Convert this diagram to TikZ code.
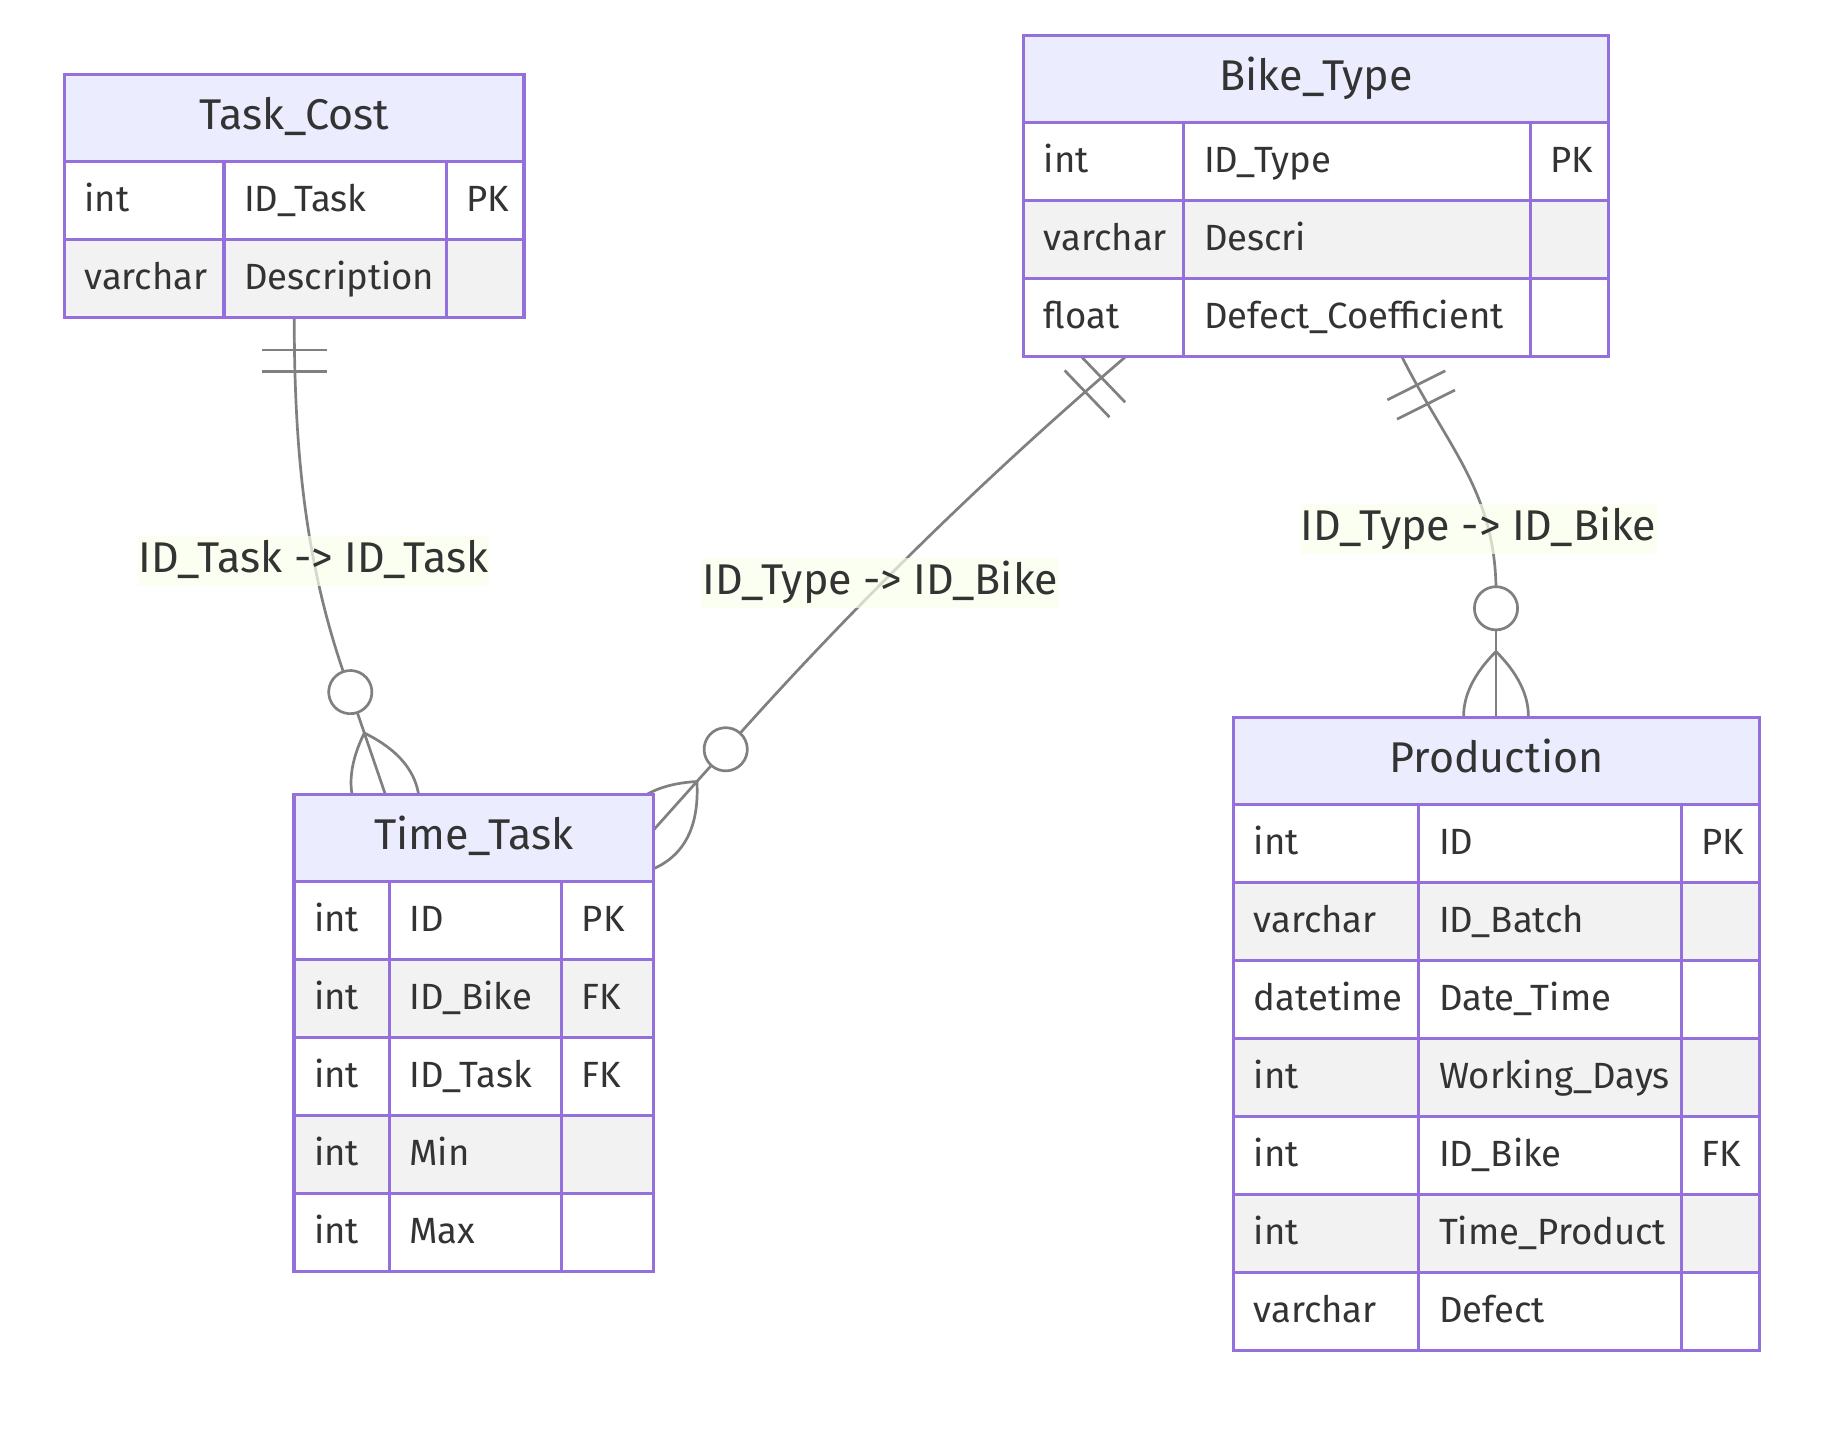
\documentclass[tikz,border=0pt]{standalone}
\usepackage{fontspec}
\setmainfont{Fira Sans}
\usetikzlibrary{calc}
\definecolor{erborder}{HTML}{9370DB}
\definecolor{erhead}{HTML}{ECECFF}
\definecolor{erodd}{HTML}{FFFFFF}
\definecolor{ereven}{HTML}{F2F2F2}
\definecolor{ertext}{HTML}{333333}
\definecolor{erline}{HTML}{808080}
\definecolor{erlabel}{HTML}{F9FFEC}
\newcommand\ERheadfont{\fontsize{43}{50}\selectfont}
\newcommand\ERrowfont{\fontsize{36.5}{43}\selectfont}
\pgfdeclarelayer{bg}
\pgfdeclarelayer{edges}
\pgfsetlayers{bg,edges,main}
\tikzset{
  conn/.style={draw=erline, line width=2.7pt},
  cell/.style={draw=erborder, line width=3.2pt},
  headbox/.style={draw=erborder, line width=3.2pt, fill=erhead},
  headtext/.style={font=\ERheadfont, text=ertext, inner sep=0pt},
  rowtext/.style={font=\ERrowfont, text=ertext, inner sep=0pt},
  elabel/.style={font=\ERheadfont, text=ertext, fill=erlabel, fill opacity=0.7, text opacity=1,
                 inner xsep=1pt, inner ysep=0pt, text height=36.5pt, text depth=13.5pt},
  pics/zmany/.style={code={
    \draw[conn] (0,0) circle[radius=6];
    \draw[conn] (6,0) -- (48,0);
    \draw[conn] (12,0) .. controls (24,12) and (36,12) .. (48,0) .. controls (36,-12) and (24,-12) .. (12,0);
  }},
  pics/onlyone/.style={code={
    \draw[conn] (9,-9) -- (9,9) (15,-9) -- (15,9);
  }},
}
% #1 id, #2 title, #3 x0, #4 top, #5 col1, #6 col2, #7 x3, #8 rows, #9 list
\newcommand\ERentity[9]{%
  \pgfmathsetmacro\ERw{#7-#3}%
  \pgfmathsetmacro\ERh{87+78*#8}%
  \node[minimum width=\ERw pt, minimum height=\ERh pt, inner sep=0pt, outer sep=0pt, anchor=north west] (#1) at (#3,#4) {};
  \draw[headbox] (#3,#4) rectangle (#7,#4+87);
  \node[headtext, anchor=base] (#1-title) at ($(#1.north)+(0,55)$) {#2};
  \foreach \ty/\nm/\ky [count=\i] in {#9} {
    \pgfmathsetmacro\ERrt{#4+87+78*(\i-1)}
    \pgfmathsetmacro\ERrb{\ERrt+78}
    \pgfmathtruncatemacro\ERpar{mod(\i,2)}
    \ifnum\ERpar=1 \def\ERfill{erodd}\else\def\ERfill{ereven}\fi
    \draw[cell, fill=\ERfill] (#3,\ERrt) rectangle (#5,\ERrb);
    \draw[cell, fill=\ERfill] (#5,\ERrt) rectangle (#6,\ERrb);
    \draw[cell, fill=\ERfill] (#6,\ERrt) rectangle (#7,\ERrb);
    \node[rowtext, anchor=base west] (#1-ty\i) at (#3+20,\ERrt+49.7) {\ty};
    \node[rowtext, anchor=base west] (#1-nm\i) at (#5+20,\ERrt+49.7) {\nm};
    \node[rowtext, anchor=base west] (#1-ky\i) at (#6+20,\ERrt+49.7) {\ky};
  }
}
\begin{document}
\begin{tikzpicture}[x=1pt, y=-1pt]
\begin{pgfonlayer}{bg}
  \fill[white] (0,0) rectangle (1839,1431);
\end{pgfonlayer}
\useasboundingbox (0,0) rectangle (1839,1431);

\ERentity{tc}{Task\_Cost}{64.5}{74.5}{224}{446.5}{524}{2}{int/ID\_Task/PK, varchar/Description/{}}
\ERentity{bt}{Bike\_Type}{1023.7}{35.4}{1183.8}{1530.2}{1608.7}{3}{int/ID\_Type/PK, varchar/Descri/{}, float/Defect\_Coefficient/{}}
\ERentity{tt}{Time\_Task}{294}{794.5}{389.3}{561.7}{653.5}{5}{int/ID/PK, int/ID\_Bike/FK, int/ID\_Task/FK, int/Min/{}, int/Max/{}}
\ERentity{pr}{Production}{1233.6}{717.3}{1418.8}{1681.4}{1759.4}{7}{int/ID/PK, varchar/ID\_Batch/{}, datetime/Date\_Time/{}, int/Working\_Days/{}, int/ID\_Bike/FK, int/Time\_Product/{}, varchar/Defect/{}}

% connector end points
\coordinate (e1s) at (tc.south);
\coordinate (e2s) at ($(bt.south west)!0.1749!(bt.south east)$);
\coordinate (e3s) at ($(bt.south west)!0.6462!(bt.south east)$);
\coordinate (e1e) at (343.3,671.7);
\coordinate (e1c) at (350.3,692.1);
\coordinate (e2e) at (740.1,733.2);
\coordinate (e2c) at (725.7,749.3);
\coordinate (e3e) at (1496,586.7);
\coordinate (e3c) at (1496,608.3);

\begin{pgfonlayer}{edges}
  % Task_Cost -> Time_Task
  \draw[conn] (e1s) .. controls ($(e1s)+(0,132)$) and (305,560) .. (e1e);
  \pic[rotate=-90, scale=3.6] at (e1s) {onlyone};
  \pic[rotate=-71.1, scale=3.6] at (e1c) {zmany};
  % Bike_Type -> Time_Task
  \draw[conn] (e2s) .. controls (989.2,473.7) and (860.2,599.1) .. (e2e);
  \pic[rotate=-136.2, scale=3.6] at (e2s) {onlyone};
  \pic[rotate=-131.8, scale=3.6] at (e2c) {zmany};
  % Bike_Type -> Production
  \draw[conn] (e3s) .. controls (1446.7,446) and (1494,490) .. (e3e);
  \pic[rotate=-63.3, scale=3.6] at (e3s) {onlyone};
  \pic[rotate=-90, scale=3.6] at (e3c) {zmany};
\end{pgfonlayer}

\node[elabel] (lab1) at (313.6,561) {ID\_Task -> ID\_Task};
\node[elabel] (lab2) at (880.3,582.8) {ID\_Type -> ID\_Bike};
\node[elabel] (lab3) at (1478.6,529) {ID\_Type -> ID\_Bike};
\end{tikzpicture}
\end{document}
